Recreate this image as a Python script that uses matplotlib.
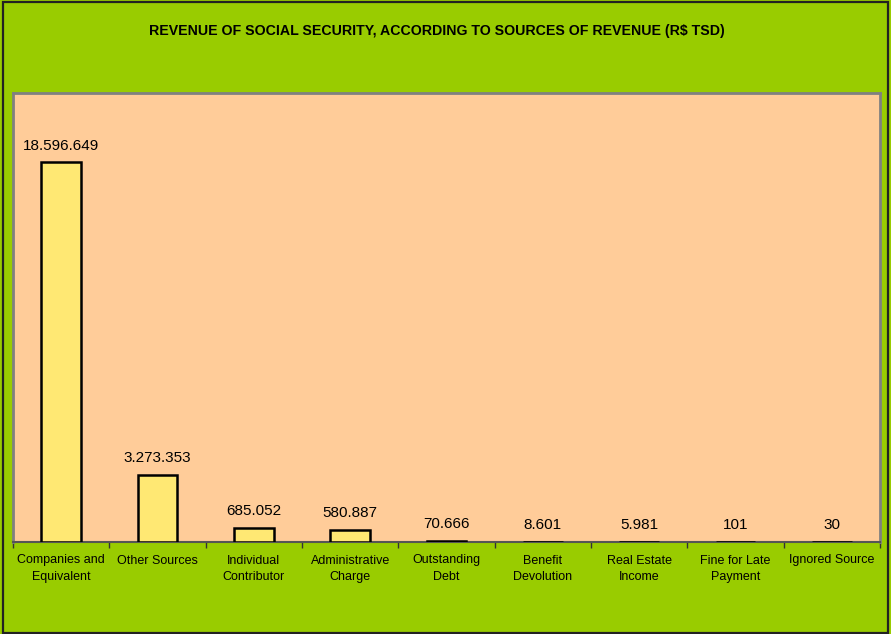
import matplotlib.pyplot as plt
import numpy as np
from matplotlib.patches import Rectangle

plt.rcParams['font.family'] = ['Liberation Sans', 'DejaVu Sans']

# -------------------------------
# Revenue of social security by source (R$ thousand)
# -------------------------------
sources = [
    "Companies and\nEquivalent",
    "Other Sources",
    "Individual\nContributor",
    "Administrative\nCharge",
    "Outstanding\nDebt",
    "Benefit\nDevolution",
    "Real Estate\nIncome",
    "Fine for Late\nPayment",
    "Ignored Source",
]
revenue = [18596649, 3273353, 685052, 580887, 70666, 8601, 5981, 101, 30]


def br_fmt(v):
    return f"{v:,}".replace(",", ".")


fig = plt.figure(figsize=(8.91, 6.34), dpi=100)
fig.patch.set_facecolor("#99CC00")

# dark frame round the whole chart
fig.patches.append(Rectangle((0.003, 0.002), 0.994, 0.995, transform=fig.transFigure,
                             fill=False, edgecolor="#222222", linewidth=1.6))

ax = fig.add_axes([13 / 891, 92 / 634, 867 / 891, 449 / 634])
ax.set_facecolor("#FFCC99")

x = np.arange(len(sources))
ax.bar(x, revenue, width=0.41, color="#FFE873", edgecolor="black", linewidth=1.8, zorder=3)

for xi, v in zip(x, revenue):
    ax.text(xi, v + 22e6 * 0.022, br_fmt(v), ha="center", va="bottom", fontsize=11)

ax.set_xlim(-0.5, len(sources) - 0.5)
ax.set_ylim(0, 22e6)
ax.set_yticks([])

ax.set_xticks(x)
ax.set_xticklabels(sources, fontsize=9, linespacing=1.5)
ax.tick_params(axis="x", which="major", length=0, pad=9)
ax.set_xticks(np.arange(len(sources) + 1) - 0.5, minor=True)
ax.tick_params(axis="x", which="minor", length=4, width=1, color="#333333", direction="out")

for side in ["top", "right", "left"]:
    ax.spines[side].set_color("#808080")
    ax.spines[side].set_linewidth(2)
ax.spines["bottom"].set_color("#555555")
ax.spines["bottom"].set_linewidth(1.5)

fig.text(0.49, 0.951, "REVENUE OF SOCIAL SECURITY, ACCORDING TO SOURCES OF REVENUE (R$ TSD)",
         ha="center", va="center", fontsize=10.2, fontweight="bold")

plt.savefig("out.png", dpi=100, facecolor=fig.get_facecolor())
plt.close()
